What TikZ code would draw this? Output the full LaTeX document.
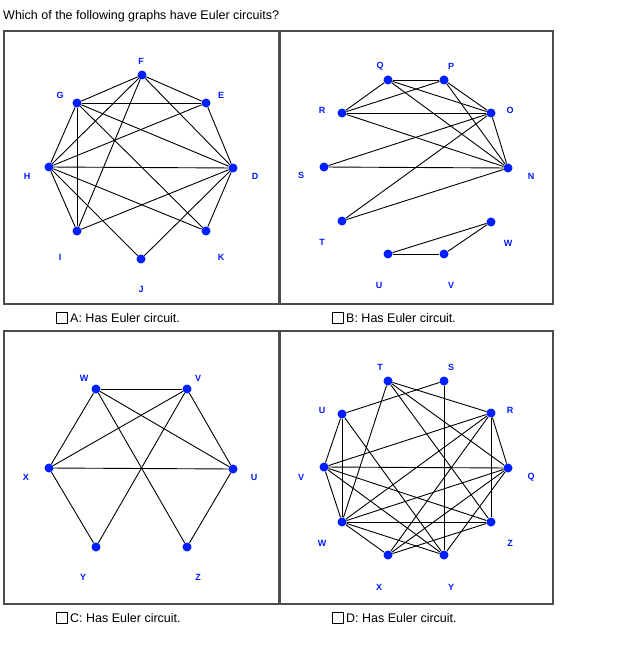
\documentclass[tikz,border=0pt]{standalone}
\usepackage{fontspec}
\setmainfont{Liberation Sans}
\begin{document}
\begin{tikzpicture}[x=1pt,y=-1pt,
  v/.style={circle,fill=blue!80!cyan!60!blue,inner sep=0pt,minimum size=9pt},
  lb/.style={font=\fontsize{9}{10}\selectfont\bfseries,text=blue!90!cyan},
  e/.style={line width=0.9pt},
  panel/.style={draw=black!70,line width=1.2pt},
  captxt/.style={font=\fontsize{12.5}{14}\selectfont,anchor=west}]
\useasboundingbox (0,0) rectangle (617,663);
\fill[white] (0,0) rectangle (617,663);
\node[anchor=west,font=\fontsize{12.5}{14}\selectfont,inner sep=0pt] (title) at (3,16) {Which of the following graphs have Euler circuits?};
\draw[panel] (4,31) rectangle (279,304);
\draw[panel] (280,31) rectangle (553,304);
\draw[panel] (4,331) rectangle (279,604);
\draw[panel] (280,331) rectangle (553,604);
% captions
\foreach \x/\y/\t/\n in {62/318/A/ca,338/318/B/cb,62/618/C/cc,338/618/D/cd}{
  \node[draw,minimum size=11pt,inner sep=0pt,line width=0.8pt] (box\n) at (\x,\y) {};
  \node[captxt,inner sep=0pt] (txt\n) at (\x+8,\y) {\t: Has Euler circuit.};
}
% Panel A
\node[v] (aF) at (142,75) {}; \node[v] (aG) at (77,103) {}; \node[v] (aE) at (206,103) {};
\node[v] (aH) at (49,167) {}; \node[v] (aD) at (233,168) {}; \node[v] (aI) at (77,231) {};
\node[v] (aK) at (206,231) {}; \node[v] (aJ) at (141,259) {};
\node[lb] (laF) at (141,61) {F}; \node[lb] (laG) at (60,95) {G}; \node[lb] (laE) at (221,95) {E};
\node[lb] (laH) at (27,176) {H}; \node[lb] (laD) at (255,176) {D}; \node[lb] (laI) at (60,257) {I};
\node[lb] (laK) at (221,257) {K}; \node[lb] (laJ) at (141,289) {J};
\foreach \a/\b in {F/G,F/E,F/H,F/I,F/D,G/E,G/H,G/I,G/D,G/K,E/H,E/D,H/D,H/I,H/J,H/K,D/I,D/J,D/K}
  \draw[e] (a\a) -- (a\b);
% Panel B
\node[v] (bQ) at (388,80) {}; \node[v] (bP) at (444,80) {}; \node[v] (bR) at (342,113) {};
\node[v] (bO) at (491,113) {}; \node[v] (bS) at (324,167) {}; \node[v] (bN) at (508,168) {};
\node[v] (bT) at (342,221) {}; \node[v] (bW) at (491,222) {}; \node[v] (bU) at (388,254) {};
\node[v] (bV) at (444,254) {};
\node[lb] (lbQ) at (380,66) {Q}; \node[lb] (lbP) at (451,66) {P}; \node[lb] (lbR) at (322,110) {R};
\node[lb] (lbO) at (510,110) {O}; \node[lb] (lbS) at (301,175) {S}; \node[lb] (lbN) at (531,176) {N};
\node[lb] (lbT) at (322,242) {T}; \node[lb] (lbW) at (508,243) {W}; \node[lb] (lbU) at (379,285) {U};
\node[lb] (lbV) at (451,285) {V};
\foreach \a/\b in {Q/P,Q/R,Q/O,Q/N,P/R,P/O,P/N,R/O,R/N,O/S,O/T,O/N,S/N,T/N,U/V,U/W,V/W}
  \draw[e] (b\a) -- (b\b);
% Panel C
\node[v] (cW) at (96,389) {}; \node[v] (cV) at (187,389) {}; \node[v] (cX) at (49,468) {};
\node[v] (cU) at (233,469) {}; \node[v] (cY) at (96,547) {}; \node[v] (cZ) at (187,547) {};
\node[lb] (lcW) at (84,378) {W}; \node[lb] (lcV) at (198,378) {V}; \node[lb] (lcX) at (26,477) {X};
\node[lb] (lcU) at (254,477) {U}; \node[lb] (lcY) at (83,577) {Y}; \node[lb] (lcZ) at (198,577) {Z};
\foreach \a/\b in {W/V,W/X,W/U,W/Z,V/X,V/U,V/Y,X/U,X/Y,U/Z}
  \draw[e] (c\a) -- (c\b);
% Panel D
\node[v] (dT) at (388,381) {}; \node[v] (dS) at (444,381) {}; \node[v] (dU) at (342,414) {};
\node[v] (dR) at (491,413) {}; \node[v] (dV) at (324,467) {}; \node[v] (dQ) at (508,468) {};
\node[v] (dW) at (342,522) {}; \node[v] (dZ) at (491,522) {}; \node[v] (dX) at (388,555) {};
\node[v] (dY) at (444,555) {};
\node[lb] (ldT) at (380,367) {T}; \node[lb] (ldS) at (451,367) {S}; \node[lb] (ldU) at (322,410) {U};
\node[lb] (ldR) at (510,410) {R}; \node[lb] (ldV) at (301,477) {V}; \node[lb] (ldQ) at (531,477) {Q};
\node[lb] (ldW) at (322,543) {W}; \node[lb] (ldZ) at (510,543) {Z}; \node[lb] (ldX) at (379,587) {X};
\node[lb] (ldY) at (451,587) {Y};
\foreach \a/\b in {T/R,T/Q,T/Z,T/W,S/U,S/Y,U/V,U/W,U/Y,R/V,R/Q,R/Z,R/W,R/X,V/Q,V/W,V/Z,V/Y,Q/W,Q/X,Q/Y,Z/W,Z/X,W/X,W/Y}
  \draw[e] (d\a) -- (d\b);
\end{tikzpicture}
\end{document}
